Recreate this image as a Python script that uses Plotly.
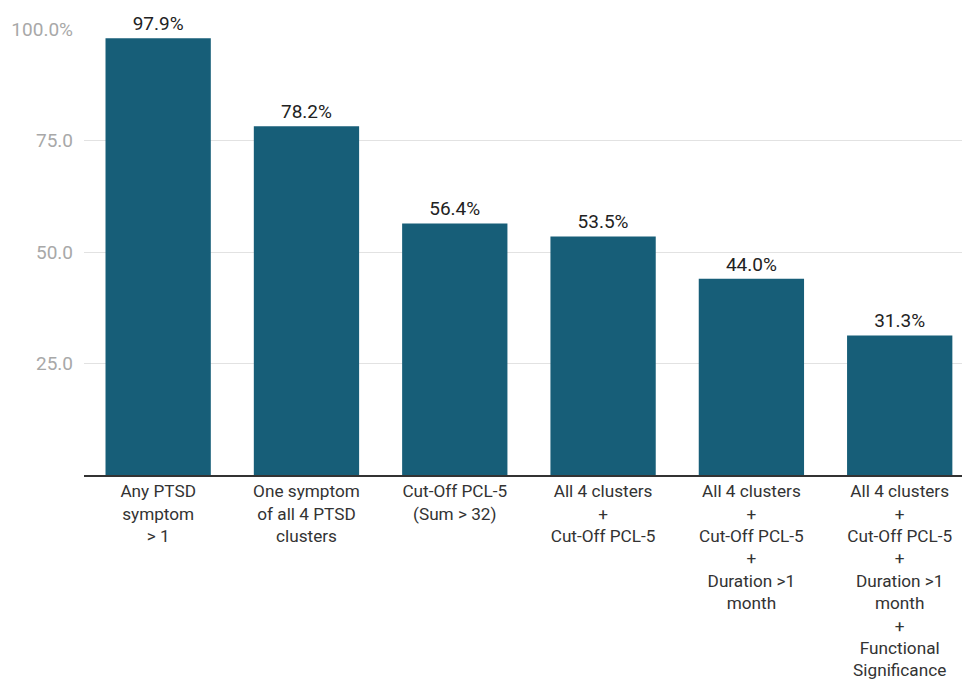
import plotly.graph_objects as go

categories = [
    "Any PTSD<br>symptom<br>> 1",
    "One symptom<br>of all 4 PTSD<br>clusters",
    "Cut-Off PCL-5<br>(Sum > 32)",
    "All 4 clusters<br>+<br>Cut-Off PCL-5",
    "All 4 clusters<br>+<br>Cut-Off PCL-5<br>+<br>Duration >1<br>month",
    "All 4 clusters<br>+<br>Cut-Off PCL-5<br>+<br>Duration >1<br>month<br>+<br>Functional<br>Significance",
]
values = [97.9, 78.2, 56.4, 53.5, 44.0, 31.3]
value_labels = ["97.9%", "78.2%", "56.4%", "53.5%", "44.0%", "31.3%"]
y_tickvals = [25, 50, 75, 100]
y_ticktext = ["25.0", "50.0", "75.0", "100.0%"]

x = list(range(len(categories)))

fig = go.Figure(go.Bar(
    x=x, y=values,
    marker=dict(color="#175e78", line=dict(width=0)),
    text=value_labels, textposition="outside",
    textfont=dict(family="Roboto", size=19, color="#222222"),
    cliponaxis=False,
    width=0.71,
))

fig.update_layout(
    width=962, height=684,
    margin=dict(l=84, r=0, t=29, b=209),
    plot_bgcolor="white", paper_bgcolor="white",
    showlegend=False,
    font=dict(family="Roboto"),
)
fig.update_xaxes(
    range=[-0.5, 5.42],
    tickvals=x, ticktext=categories,
    tickfont=dict(family="Roboto", size=17.2, color="#333333"),
    showline=True, linecolor="#333333", linewidth=1.5,
    ticks="", showgrid=False, ticklabelstandoff=0,
    automargin=False,
)
fig.update_yaxes(
    range=[0, 100],
    tickvals=y_tickvals, ticktext=y_ticktext,
    tickfont=dict(family="Roboto", size=19, color="#a8a8a8"),
    showgrid=True, gridcolor="#e2e2e2", gridwidth=1,
    zeroline=False, ticks="", ticklabelstandoff=10,
    automargin=False,
)

fig.write_html("out.html")
